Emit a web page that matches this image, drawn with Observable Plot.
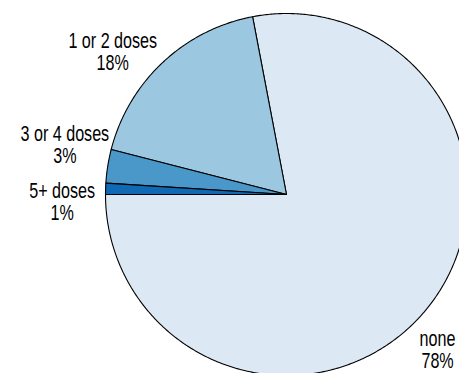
<!DOCTYPE html>
<html>
<head>
<meta charset="utf-8">
<script src="https://cdn.jsdelivr.net/npm/d3@7"></script>
<script src="https://cdn.jsdelivr.net/npm/@observablehq/plot@0.6"></script>
<style>
  html, body { margin: 0; padding: 0; background: #fff; }
  #chart svg { display: block; }
</style>
</head>
<body>
<div id="chart"></div>
<script>
// ---- data ----
const categories = ["none", "1 or 2 doses", "3 or 4 doses", "5+ doses"];
const percents = [78, 18, 3, 1];

// ---- layout / style ----
const W = 459, H = 373;
const cx = 286, cy = 194, rPx = 181;          // pie centre and radius (px)
const colors = ["#dce9f5", "#9cc7e0", "#4a97c9", "#0f69b4"];
const FONT = '"Liberation Sans", Arial, sans-serif';
const FS = 21.5;
const SQUEEZE = 0.75;                          // condensed look
const LINE_H = 1.02;
const LABEL_R = 1.24;

// slices as polygons in unit-circle coordinates, counter-clockwise from 9 o'clock
const total = d3.sum(percents);
const slicePts = [];
const labels = [];
let cum = 0;
categories.forEach((c, i) => {
  const a0 = Math.PI + (cum / total) * 2 * Math.PI;
  const a1 = a0 + (percents[i] / total) * 2 * Math.PI;
  cum += percents[i];
  slicePts.push({cat: c, x: 0, y: 0});
  const n = Math.max(2, Math.ceil((a1 - a0) / (Math.PI / 360)));
  for (let k = 0; k <= n; k++) {
    const a = a0 + (a1 - a0) * k / n;
    slicePts.push({cat: c, x: Math.cos(a), y: Math.sin(a)});
  }
  slicePts.push({cat: c, x: 0, y: 0});
  const m = (a0 + a1) / 2;
  labels.push({cat: c, text: `${c}\n${percents[i]}%`, x: LABEL_R * Math.cos(m), y: LABEL_R * Math.sin(m)});
});

// simple label layout: separate close labels vertically, keep inside frame
const minGap = 0.315;
const sorted = labels.slice().sort((a, b) => b.y - a.y);
for (let iter = 0; iter < 20; iter++) {
  for (let i = 1; i < sorted.length; i++) {
    const a = sorted[i - 1], b = sorted[i];
    if (Math.sign(a.x) === Math.sign(b.x) && a.y - b.y < minGap) {
      const mid = (a.y + b.y) / 2;
      a.y = mid + minGap / 2; b.y = mid - minGap / 2;
    }
  }
}
const ctx = document.createElement("canvas").getContext("2d");
ctx.font = `${FS}px ${FONT}`;
const lineH = LINE_H * FS;
const Rl = LABEL_R * rPx;
labels.forEach(l => {
  const hw = SQUEEZE * d3.max(l.text.split("\n"), s => ctx.measureText(s).width) / 2;
  const hh = lineH;
  let px = cx + l.x * rPx, py = cy - l.y * rPx;
  const xMin = hw + 3, xMax = W - hw - 4, yMin = hh + 30, yMax = H - hh - 2;
  if (px > xMax || px < xMin) {           // slide along label circle
    px = Math.max(xMin, Math.min(xMax, px));
    const d = Math.sqrt(Math.max(0, Rl * Rl - (px - cx) ** 2));
    py = cy + Math.sign(py - cy) * d;
  }
  if (py < yMin || py > yMax) {
    py = Math.max(yMin, Math.min(yMax, py));
    const d = Math.sqrt(Math.max(0, Rl * Rl - (py - cy) ** 2));
    const nx = cx + Math.sign(px - cx) * d;
    if (nx >= xMin && nx <= xMax) px = nx;
  }
  l.x = (px - cx) / rPx; l.y = (cy - py) / rPx;
});

const chart = Plot.plot({
  width: W,
  height: H,
  margin: 0,
  x: {domain: [-cx / rPx, (W - cx) / rPx], axis: null},
  y: {domain: [-(H - cy) / rPx, cy / rPx], axis: null},
  color: {domain: categories, range: colors},
  style: {background: "#fff", fontFamily: FONT},
  marks: [
    Plot.line(slicePts, {x: "x", y: "y", z: "cat", fill: "cat", stroke: "#000", strokeWidth: 1.1, curve: "linear", strokeLinejoin: "round"}),
    Plot.text(labels, {x: "x", y: "y", text: "text", fill: "#000", fontSize: FS, lineHeight: LINE_H, textAnchor: "middle", lineAnchor: "middle", fontFamily: FONT})
  ]
});
document.getElementById("chart").append(chart);

// condense label glyphs horizontally
chart.querySelectorAll('g[aria-label="text"] text').forEach(t => {
  const parts = t.querySelectorAll("tspan");
  (parts.length ? parts : [t]).forEach(el => {
    const w = el.getComputedTextLength();
    el.setAttribute("textLength", (w * SQUEEZE).toFixed(1));
    el.setAttribute("lengthAdjust", "spacingAndGlyphs");
  });
});
</script>
</body>
</html>
